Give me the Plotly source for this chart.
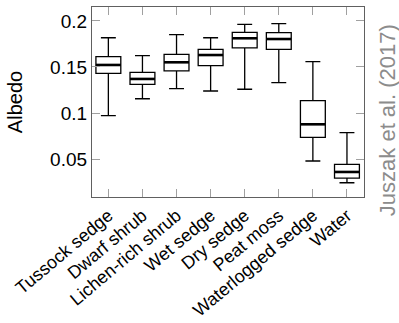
import plotly.graph_objects as go

categories = ["Tussock sedge", "Dwarf shrub", "Lichen-rich shrub", "Wet sedge",
              "Dry sedge", "Peat moss", "Waterlogged sedge", "Water"]
lower_whisker = [0.0971, 0.1155, 0.1264, 0.1239, 0.1258, 0.1330, 0.0478, 0.0242]
q1_values     = [0.1431, 0.1312, 0.1457, 0.1514, 0.1707, 0.1692, 0.0736, 0.0293]
median_values = [0.1522, 0.1370, 0.1551, 0.1630, 0.1812, 0.1804, 0.0877, 0.0359]
q3_values     = [0.1612, 0.1442, 0.1638, 0.1692, 0.1877, 0.1873, 0.1134, 0.0442]
upper_whisker = [0.1818, 0.1623, 0.1851, 0.1818, 0.1964, 0.1971, 0.1558, 0.0786]
y_tick_values = [0.05, 0.1, 0.15, 0.2]
y_tick_labels = ["0.05", "0.1", "0.15", "0.2"]

positions = list(range(len(categories)))
box_width = 0.73
FONT = "Liberation Sans"

fig = go.Figure()
fig.add_trace(go.Box(
    x=positions, q1=q1_values, median=median_values, q3=q3_values,
    lowerfence=lower_whisker, upperfence=upper_whisker,
    width=box_width, whiskerwidth=0.6,
    line=dict(color="black", width=1.3),
    fillcolor="rgba(255,255,255,0)",
    boxpoints=False, showlegend=False, hoverinfo="skip",
))

# thicker median lines
mx, my = [], []
for p, m in zip(positions, median_values):
    mx += [p - box_width / 2, p + box_width / 2, None]
    my += [m, m, None]
fig.add_trace(go.Scatter(x=mx, y=my, mode="lines",
                         line=dict(color="black", width=2.6),
                         showlegend=False, hoverinfo="skip"))

fig.update_layout(
    width=399, height=323,
    margin=dict(l=92, r=35, t=7, b=126),
    paper_bgcolor="white", plot_bgcolor="white",
    font=dict(family=FONT, size=18, color="black"),
    xaxis=dict(
        range=[-0.48, 7.5], tickmode="array", tickvals=positions, ticktext=categories,
        tickangle=-40, ticks="inside", ticklen=8, tickcolor="#a0a0a0", tickwidth=1,
        showline=True, linecolor="#606060", linewidth=1.3, mirror="ticks",
        showgrid=False, zeroline=False, tickfont=dict(size=18), automargin=False,
    ),
    yaxis=dict(
        range=[0.0087, 0.2152], tickmode="array", tickvals=y_tick_values, ticktext=y_tick_labels,
        ticks="inside", ticklen=8, tickcolor="#a0a0a0", tickwidth=1,
        showline=True, linecolor="#606060", linewidth=1.3, mirror="ticks",
        showgrid=False, zeroline=False, tickfont=dict(size=19), automargin=False,
        title=dict(text="Albedo", font=dict(size=20), standoff=22),
    ),
    annotations=[dict(
        text="Juszak et al. (2017)", textangle=-90, xref="paper", yref="paper",
        x=1.085, y=0.405, xanchor="center", yanchor="middle", showarrow=False,
        font=dict(family=FONT, size=22, color="#8c8c8c"),
    )],
)

fig.write_html("out.html", config={"displayModeBar": False},
               post_script="document.body.style.margin='0px';")
